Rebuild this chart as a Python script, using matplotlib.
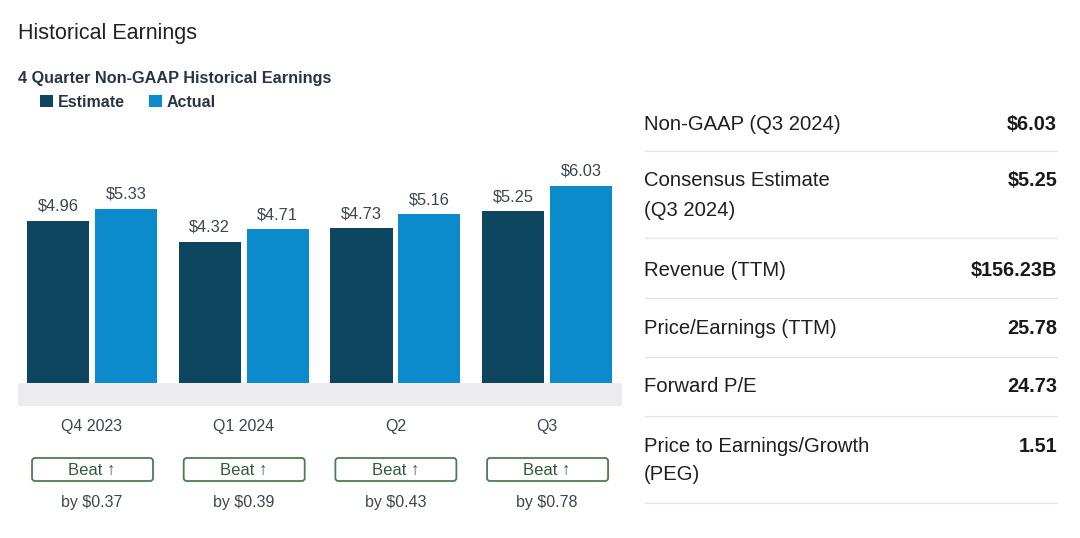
import matplotlib
matplotlib.use("Agg")
import matplotlib.pyplot as plt
from matplotlib.patches import FancyBboxPatch
import numpy as np

plt.rcParams['font.family'] = ['Liberation Sans', 'DejaVu Sans']

# ---- data ----
quarters = ["Q4 2023", "Q1 2024", "Q2", "Q3"]
estimate = [4.96, 4.32, 4.73, 5.25]
actual = [5.33, 4.71, 5.16, 6.03]
beat_by = [0.37, 0.39, 0.43, 0.78]

stat_labels = ["Non-GAAP (Q3 2024)", "Consensus Estimate\n(Q3 2024)", "Revenue (TTM)",
               "Price/Earnings (TTM)", "Forward P/E", "Price to Earnings/Growth\n(PEG)"]
stat_values = ["$6.03", "$5.25", "$156.23B", "25.78", "24.73", "1.51"]

C_EST = "#0e4660"
C_ACT = "#0b8bcc"
C_TXT = "#3b4650"
C_NAVY = "#2b3447"

W, H = 1080, 538
fig = plt.figure(figsize=(W / 100, H / 100), dpi=100)
fig.patch.set_facecolor("white")

# overlay axes in pixel coordinates (y from top)
ov = fig.add_axes([0, 0, 1, 1])
ov.set_xlim(0, W)
ov.set_ylim(H, 0)
ov.axis("off")

# bar axes
L, R, T, B = 18, 622, 150, 406
ax = fig.add_axes([L / W, 1 - B / H, (R - L) / W, (B - T) / H])
x = np.arange(len(quarters))
off, bw = 0.224, 0.41
b1 = ax.bar(x - off, estimate, bw, color=C_EST, label="Estimate", zorder=2)
b2 = ax.bar(x + off, actual, bw, color=C_ACT, label="Actual", zorder=2)
for bars in (b1, b2):
    ax.bar_label(bars, labels=[f"${v:.2f}" for v in bars.datavalues], padding=5,
                 fontsize=11.8, color=C_TXT)
ax.set_xlim(-0.488, 3.494)
ax.set_ylim(-0.7, 256 / 32.7 - 0.7)
ax.axhspan(-0.7, 0, color="#ececee", zorder=1, lw=0)
ax.set_yticks([])
ax.set_xticks(x)
ax.set_xticklabels(quarters, fontsize=11.5, color=C_TXT)
ax.tick_params(axis="x", length=0, pad=9)
for s in ax.spines.values():
    s.set_visible(False)
ax.patch.set_alpha(0)

# titles
ov.text(18, 33, "Historical Earnings", fontsize=15.5, color="#222222", va="center", ha="left")
ov.text(18, 79, "4 Quarter Non-GAAP Historical Earnings", fontsize=11.7, fontweight="bold",
        color=C_NAVY, va="center", ha="left")

leg = fig.legend(handles=[b1, b2], loc="center left", bbox_to_anchor=(26 / W, 1 - 102 / H),
                 ncol=2, frameon=False, handlelength=0.8, handleheight=0.8,
                 handletextpad=0.3, columnspacing=1.5, fontsize=11.5)
for t in leg.get_texts():
    t.set_color(C_NAVY)
    t.set_fontweight("bold")

# beat boxes
fig.canvas.draw()
for i, d in enumerate(beat_by):
    cx = ax.transData.transform((i, 0))[0]
    box = FancyBboxPatch((cx - 60, 458), 121, 23, boxstyle="round,pad=0,rounding_size=3",
                         fc="white", ec="#4a7d52", lw=1.3)
    ov.add_patch(box)
    ov.text(cx, 470, "Beat \u2191", fontsize=12, color="#2f5c36", ha="center", va="center")
    ov.text(cx, 502, f"by ${d:.2f}", fontsize=11.5, color=C_TXT, ha="center", va="center")

# right stats panel
row_y = [124, 181, 270, 328, 387, 446]
sep_y = [151, 238, 298, 357, 416, 503]
for lab, val, y in zip(stat_labels, stat_values, row_y):
    lines = lab.split("\n")
    for k, ln in enumerate(lines):
        ov.text(644, y + k * 29, ln, fontsize=14.6, color="#1f1f1f", ha="left", va="center")
    ov.text(1057, y, val, fontsize=14.3, fontweight="bold", color="#1a1a1a",
            ha="right", va="center")
for y in sep_y:
    ov.plot([645, 1057], [y, y], color="#e6e6e6", lw=1)

fig.savefig("out.png", dpi=100)
